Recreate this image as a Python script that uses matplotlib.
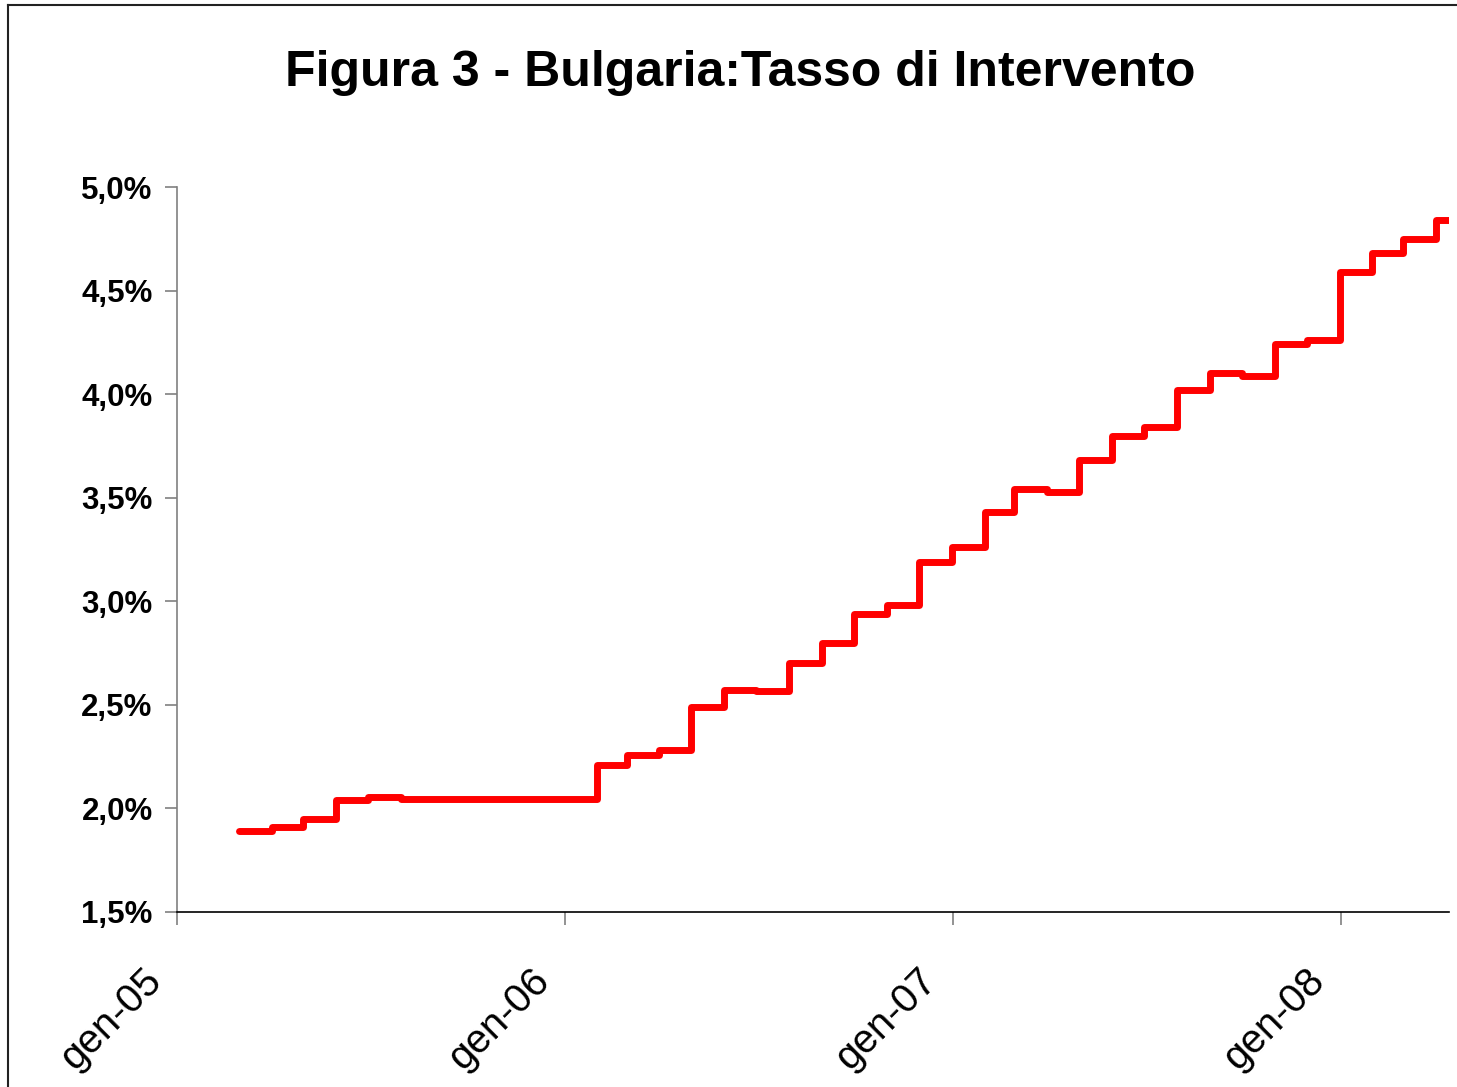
import matplotlib
matplotlib.use("Agg")
import matplotlib.pyplot as plt
import matplotlib.dates as mdates
import matplotlib.transforms as mtransforms
from matplotlib.lines import Line2D
import pandas as pd

# monthly rate (%) effective from the last day of each month, Feb-05 .. Mar-08
rates = [1.89, 1.91, 1.95, 2.04, 2.055, 2.045, 2.045, 2.045, 2.045, 2.045,
         2.045, 2.21, 2.26, 2.28, 2.49, 2.57, 2.565, 2.70, 2.80, 2.94,
         2.98, 3.19, 3.26, 3.43, 3.54, 3.53, 3.68, 3.80, 3.84, 4.02,
         4.10, 4.09, 4.24, 4.26, 4.59, 4.68, 4.75, 4.84]
first_change = "2005-02-28"
last_day = "2008-04-12"

tick_years = ["2005-01-01", "2006-01-01", "2007-01-01", "2008-01-01"]
tick_labels = ["gen-05", "gen-06", "gen-07", "gen-08"]
y_ticks = [1.5, 2.0, 2.5, 3.0, 3.5, 4.0, 4.5, 5.0]

dates = list(pd.date_range(first_change, periods=len(rates), freq="ME"))
dates.append(pd.Timestamp(last_day))
values = rates + [rates[-1]]

plt.rcParams['font.family'] = ['Liberation Sans', 'DejaVu Sans']

fig = plt.figure(figsize=(14.57, 10.87), dpi=100)
ax = fig.add_axes([177 / 1457, 1 - 912 / 1087, (1449 - 177) / 1457, (912 - 187) / 1087])

ax.step(dates, values, where="post", color="#ff0000", linewidth=5,
        solid_joinstyle="round", solid_capstyle="round")

ax.set_xlim(pd.Timestamp("2005-01-01"), pd.Timestamp(last_day))
ax.set_ylim(1.5, 5.0)

ax.set_yticks(y_ticks)
ax.set_yticklabels([f"{v:.1f}%".replace(".", ",") for v in y_ticks],
                   fontsize=22.5, fontweight="bold")
ax.set_xticks([mdates.date2num(pd.Timestamp(d)) for d in tick_years])
ax.set_xticklabels(tick_labels, fontsize=29, rotation=45, ha="right",
                   va="baseline", rotation_mode="anchor")

ax.tick_params(axis="y", direction="out", length=8.5, width=1.2, color="#808080", pad=9)
ax.tick_params(axis="x", direction="out", length=9, width=1.2, color="#808080", pad=42)

# shift the rotated date labels a little to the left, like the original
shift = mtransforms.ScaledTranslation(-14 / 100, 0, fig.dpi_scale_trans)
for lab in ax.get_xticklabels():
    lab.set_transform(lab.get_transform() + shift)

for s in ["top", "right"]:
    ax.spines[s].set_visible(False)
ax.spines["left"].set_color("#808080")
ax.spines["left"].set_linewidth(1.2)
ax.spines["bottom"].set_color("black")
ax.spines["bottom"].set_linewidth(1.2)

fig.text(740 / 1457, 1 - 73 / 1087, "Figura 3 - Bulgaria:Tasso di Intervento",
         fontsize=36, fontweight="bold", ha="center", va="center")

# outer chart border (only top and left visible in the crop)
fig.add_artist(Line2D([8 / 1457, 8 / 1457], [0, 1 - 5 / 1087], color="#222222", linewidth=1.5))
fig.add_artist(Line2D([8 / 1457, 1], [1 - 5 / 1087, 1 - 5 / 1087], color="#222222", linewidth=1.5))

fig.savefig("out.png", dpi=100)
